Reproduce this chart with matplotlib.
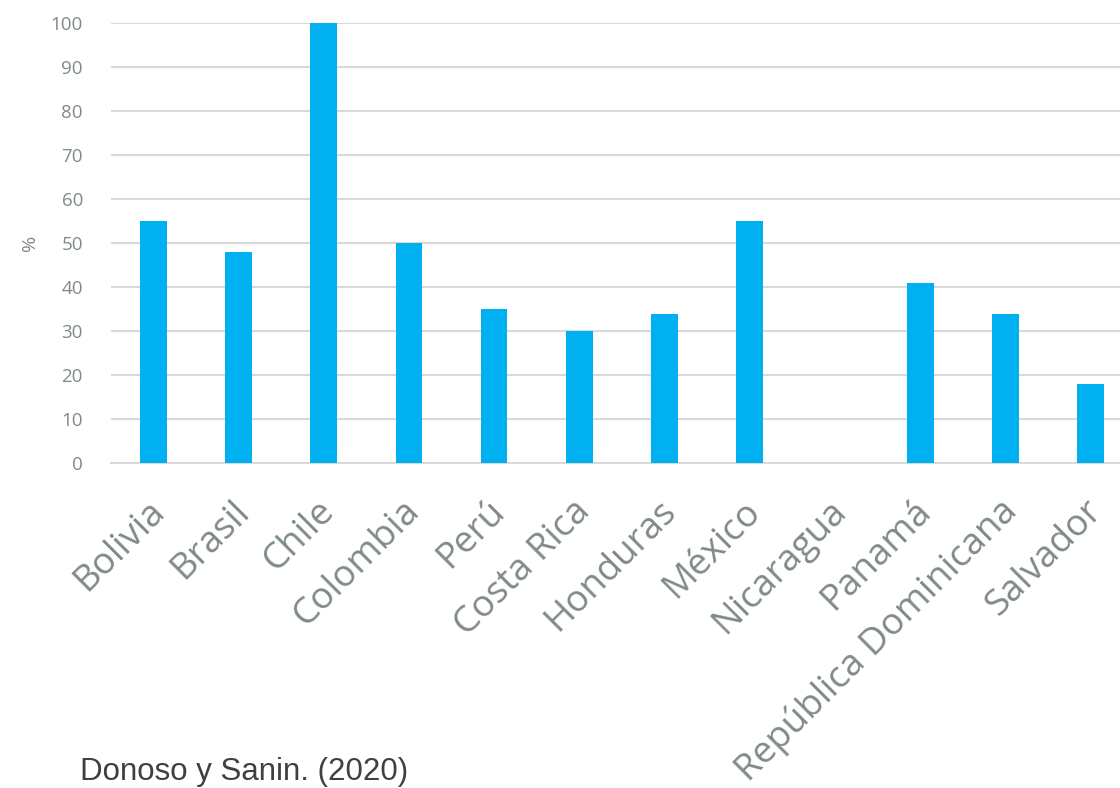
import matplotlib
matplotlib.use("Agg")
import matplotlib.pyplot as plt
import matplotlib.transforms as mtransforms

countries = ['Bolivia', 'Brasil', 'Chile', 'Colombia', 'Perú', 'Costa Rica',
             'Honduras', 'México', 'Nicaragua', 'Panamá',
             'República Dominicana', 'Salvador']
values = [55, 48, 100, 50, 35, 30, 34, 55, 0, 41, 34, 18]
yticks = [0, 10, 20, 30, 40, 50, 60, 70, 80, 90, 100]
source = 'Donoso y Sanin. (2020)'

gray = '#7f8a89'

fig = plt.figure(figsize=(11.2, 7.88), dpi=100)
ax = fig.add_axes([0.0988, 0.4124, 0.913, 0.5578])

x = list(range(len(countries)))
ax.bar(x, values, width=0.313, color='#00b0f0', zorder=3)

ax.set_xlim(-0.5, len(countries) - 0.5)
ax.set_ylim(0, 100)
ax.set_yticks(yticks)
ax.yaxis.grid(True, color='#d9d9d9', linewidth=1.5, zorder=0)
ax.set_axisbelow(True)
for s in ax.spines.values():
    s.set_visible(False)
ax.axhline(0, color='#d9d9d9', linewidth=1.5, zorder=1, clip_on=False)

ax.tick_params(axis='both', length=0)
ax.tick_params(axis='y', pad=20, labelsize=13.5, labelcolor=gray)
ax.set_xticks(x)
ax.set_xticklabels(countries, rotation=45, ha='right', va='center',
                   rotation_mode='anchor', fontsize=26.5, color=gray,
                   family='Open Sans')
for lbl in ax.get_yticklabels():
    lbl.set_family('Open Sans')

# nudge the slanted labels so their ends sit just under the bars
shift = mtransforms.ScaledTranslation(6 / 100, -38 / 100, fig.dpi_scale_trans)
for lbl in ax.get_xticklabels():
    lbl.set_transform(lbl.get_transform() + shift)

fig.text(30 / 1120, 1 - 243 / 788, '%', rotation=90, ha='center', va='center',
         fontsize=14, color=gray, family='Open Sans')
fig.text(80 / 1120, 1 - 772 / 788, source, ha='left', va='center',
         fontsize=22.5, color='#404040', family='Liberation Sans')

fig.savefig('out.png', dpi=100, facecolor='white')
